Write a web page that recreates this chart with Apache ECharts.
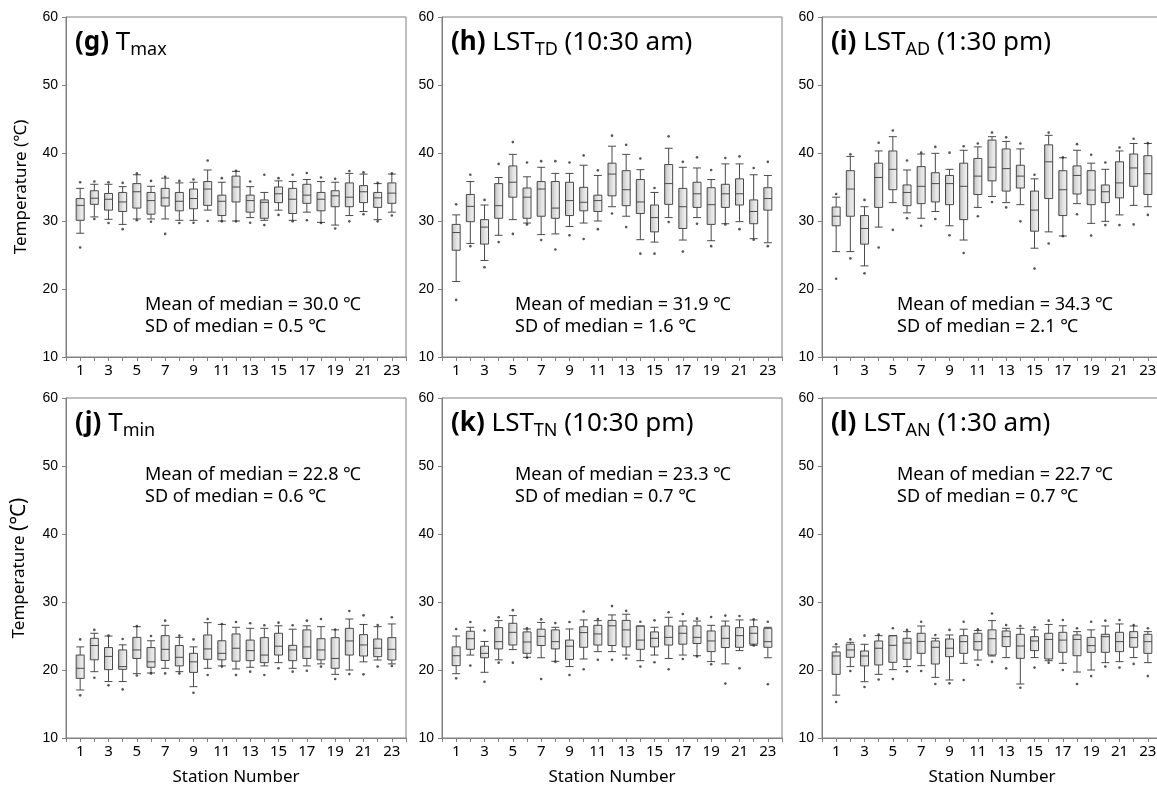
<!DOCTYPE html>
<html><head><meta charset="utf-8">
<script src="https://cdn.jsdelivr.net/npm/echarts@6/dist/echarts.min.js"></script>
<style>html,body{margin:0;padding:0;background:#fff}#c{width:1157px;height:795px}</style>
</head><body><div id="c"></div><script>
// ---------------- DATA ----------------
const stations = [1,2,3,4,5,6,7,8,9,10,11,12,13,14,15,16,17,18,19,20,21,22,23];
const axisCategories = ['0','1','2','3','4','5','6','7','8','9','10','11','12','13','14','15','16','17','18','19','20','21','22','23','24'];
const yMin = 10, yMax = 60, yStep = 10;

// box items: [lower whisker, Q1, median, Q3, upper whisker]
const gBox = [[28.2,30.1,32.3,33.3,34.8],[30.6,32.45,33.35,34.45,35.4],[30.25,31.6,33.2,34.05,35.4],[29.5,31.4,32.8,34.2,35.05],[30.3,31.9,34.3,35.5,36.8],[30.3,31.0,33.0,34.2,35.1],[30.3,32.2,33.4,34.8,36.3],[30.1,31.5,32.9,34.2,35.6],[30.1,31.8,33.3,34.7,35.7],[31.6,32.3,34.7,35.8,37.5],[30.0,30.8,32.9,33.8,35.7],[30.0,32.8,35.0,36.6,37.3],[30.5,31.3,33.0,33.8,35.05],[30.1,30.4,32.75,33.1,34.2],[31.6,32.7,34.0,35.0,35.9],[30.1,31.1,33.2,34.8,35.8],[31.3,32.6,33.8,35.4,36.1],[29.8,31.5,33.2,34.2,35.8],[29.4,32.1,33.7,34.45,35.7],[30.8,32.1,33.5,35.6,37.0],[31.4,32.7,34.3,35.2,36.9],[30.2,32.0,33.4,34.2,35.5],[31.3,32.6,34.1,35.6,36.9]];
const gDots = [[26.1,35.7],[30.3,35.8],[29.7,35.7],[28.8,35.6],[30.1,37.0],[29.9,35.9],[28.1,36.5],[29.7,35.9],[29.75,36.1],[30.0,38.9],[29.95,36.3],[29.95,37.4],[29.75,35.8],[29.4,36.8],[30.9,36.3],[29.95,36.8],[30.1,37.06],[29.7,36.4],[28.9,36.2],[29.95,37.35],[31.0,37.15],[29.95,35.6],[30.8,37.0]];

const hBox = [[21.1,25.7,28.3,29.5,30.9],[26.7,29.9,32.15,33.9,35.8],[24.2,26.6,29.1,30.2,32.35],[27.9,30.4,32.25,35.5,36.4],[30.2,33.5,35.7,38.1,39.8],[29.7,30.4,33.5,34.85,36.5],[28.0,30.7,34.7,35.8,37.9],[28.1,30.4,31.9,35.8,37.0],[29.2,30.8,33.0,35.7,37.0],[29.7,31.5,32.75,34.95,38.2],[30.0,31.4,33.0,33.8,36.7],[32.1,33.7,36.9,38.5,41.0],[30.7,32.25,34.6,37.4,39.8],[27.25,31.1,32.8,36.1,37.55],[26.9,28.4,30.5,32.35,34.2],[30.5,32.45,35.5,38.3,40.7],[27.2,28.9,32.1,34.8,37.9],[30.5,32.0,34.0,35.7,37.8],[27.1,29.5,32.4,34.9,36.1],[29.6,32.0,34.0,35.4,38.4],[29.9,32.35,34.0,36.2,38.4],[27.4,29.6,31.4,33.1,36.8],[26.8,31.6,33.3,34.9,36.7]];
const hDots = [[18.4,32.45],[26.3,36.8],[23.2,33.1],[26.9,38.4],[28.1,41.6],[29.5,38.6],[27.2,38.8],[25.8,38.8],[27.9,38.6],[27.35,39.65],[28.8,37.45],[31.1,42.55],[29.1,41.2],[25.2,39.2],[25.2,34.85],[29.85,42.45],[25.5,38.7],[29.6,39.36],[26.3,37.5],[29.5,39.26],[28.8,39.5],[27.25,37.8],[26.3,38.7]];

const iBox = [[25.5,29.3,30.7,32.05,33.5],[25.5,30.7,34.7,37.4,39.5],[23.4,26.6,28.9,30.8,32.1],[29.1,32.0,36.4,38.5,40.3],[32.7,34.6,37.6,40.3,42.4],[31.2,32.25,34.2,35.3,37.5],[30.4,32.55,35.1,38.0,39.85],[31.4,32.8,35.5,37.1,39.95],[29.3,32.4,35.5,36.7,37.6],[27.2,30.2,35.1,38.5,40.4],[32.0,33.9,36.6,39.2,40.9],[33.6,35.9,37.9,41.9,42.4],[32.7,34.4,37.7,40.6,41.7],[32.4,34.85,36.6,38.2,40.6],[26.0,28.5,31.6,34.4,36.2],[28.4,33.3,38.7,41.2,42.6],[27.8,30.8,34.6,37.4,39.3],[32.55,33.97,36.7,38.1,40.4],[29.65,32.4,34.55,37.4,38.5],[29.95,32.7,34.3,35.3,37.6],[30.9,33.4,35.6,38.7,40.3],[32.3,35.1,37.8,39.85,41.4],[32.1,33.9,36.95,39.6,41.4]];
const iDots = [[21.5,33.97],[24.5,39.8],[22.3,33.1],[26.1,41.5],[28.7,43.3],[30.4,38.9],[29.3,40.05],[30.3,40.9],[27.9,40.05],[25.3,41.0],[30.7,41.4],[32.8,43.0],[32.0,42.3],[29.95,41.4],[23.0,36.8],[26.7,43.0],[27.75,39.35],[31.0,41.3],[27.85,39.75],[29.4,38.6],[29.4,40.8],[29.5,42.1],[30.9,41.45]];

const jBox = [[17.06,18.77,20.25,22.2,23.4],[19.75,21.5,23.6,24.66,25.4],[18.3,20.05,22.0,23.3,25.0],[18.3,20.1,20.5,22.95,23.7],[19.46,21.7,22.95,24.8,26.37],[19.56,20.4,21.2,23.3,24.3],[20.25,21.4,23.04,25.05,26.57],[19.76,20.6,21.87,23.6,24.8],[17.55,19.65,21.2,22.45,23.4],[20.25,21.57,23.1,25.15,26.96],[20.6,21.5,22.45,24.3,26.7],[20.15,21.3,23.2,25.3,26.28],[20.4,21.37,22.85,24.4,26.13],[20.6,21.08,22.2,24.76,26.13],[21.08,22.2,23.5,25.4,26.5],[20.25,21.37,22.95,23.63,26.0],[20.6,21.7,23.4,25.9,26.5],[20.9,21.5,22.95,24.6,26.37],[19.36,20.25,21.7,24.76,25.9],[20.0,22.2,24.27,26.13,27.5],[21.2,22.06,23.68,25.2,26.7],[21.47,21.96,23.2,24.56,26.37],[20.9,21.47,23.04,24.76,26.77]];
const jDots = [[16.27,24.5],[18.87,25.9],[17.74,25.05],[17.15,24.56],[19.2,26.45],[19.5,25.0],[19.5,27.26],[19.5,25.05],[16.66,24.5],[19.27,27.5],[20.5,26.77],[19.27,27.06],[19.76,26.87],[19.27,26.57],[20.25,26.96],[19.76,26.57],[19.9,27.26],[20.5,27.5],[18.67,25.95],[19.4,28.68],[19.36,28.04],[20.5,26.6],[20.6,27.75]];

const kBox = [[19.46,20.64,22.1,23.4,25.0],[22.2,23.04,24.6,25.7,26.28],[19.66,21.8,22.45,23.5,24.2],[21.5,23.1,24.17,26.23,27.26],[23.0,23.68,25.54,26.87,28.0],[21.87,22.45,24.12,25.6,26.03],[21.8,23.6,24.95,26.0,27.0],[21.28,23.1,24.17,25.9,26.28],[20.5,21.55,23.5,24.4,26.03],[21.62,23.34,25.5,26.37,27.36],[22.7,23.67,25.3,26.57,27.26],[22.7,23.6,26.5,27.3,28.1],[22.2,23.4,25.9,27.3,28.2],[21.37,23.04,24.4,26.47,26.47],[22.2,23.4,24.66,25.6,26.28],[21.7,23.67,24.8,26.47,27.75],[22.2,23.8,25.4,26.47,27.2],[22.1,23.9,24.8,26.5,27.2],[21.23,22.7,24.27,25.74,26.57],[20.9,23.3,24.66,26.47,27.2],[22.85,23.34,25.05,26.23,27.36],[23.63,23.8,25.4,26.37,27.36],[21.8,23.34,24.17,26.13,26.28]];
const kDots = [[18.77,26.03],[20.65,27.06],[18.28,25.8],[21.08,27.75],[21.08,28.8],[21.8,26.13],[18.67,27.45],[21.2,26.9],[19.26,27.06],[20.1,28.6],[21.5,27.5],[21.5,29.4],[21.7,28.7],[20.5,27.1],[21.13,27.3],[20.1,28.5],[21.62,28.24],[22.0,27.55],[20.84,27.8],[18.0,28.0],[20.25,27.94],[23.6,27.45],[17.9,27.1]];

const lBox = [[16.3,19.36,22.06,22.65,23.4],[20.5,21.87,22.95,23.8,24.07],[18.28,20.6,22.06,22.8,23.78],[19.36,20.74,23.2,24.27,25.05],[20.05,21.13,23.63,25.05,25.05],[20.5,21.57,23.97,24.66,25.64],[20.64,22.45,24.2,25.4,26.47],[18.92,20.88,23.34,24.27,24.66],[18.53,21.96,23.2,24.56,25.15],[20.98,22.45,24.17,25.05,26.0],[21.47,22.94,24.17,25.4,25.8],[22.06,22.2,24.6,25.9,27.26],[21.82,23.44,24.9,25.74,26.13],[17.94,21.72,23.53,25.25,26.13],[21.82,22.85,24.27,24.9,25.9],[21.37,21.62,24.5,25.4,26.7],[20.98,22.6,24.4,25.54,26.5],[19.7,22.1,24.5,25.15,25.64],[20.0,22.6,23.58,24.8,25.9],[21.08,22.6,24.9,25.25,26.47],[21.23,22.7,24.17,25.54,26.77],[21.82,23.34,24.76,25.64,26.47],[21.08,22.45,24.17,25.25,25.64]];
const lDots = [[15.3,23.78],[19.85,24.5],[17.5,25.05],[18.6,25.2],[18.67,26.13],[19.8,25.9],[19.85,27.1],[17.94,25.15],[18.04,25.9],[18.53,27.1],[20.74,26.0],[21.2,28.3],[20.24,26.6],[17.4,26.47],[20.35,26.28],[21.08,27.26],[20.0,27.36],[17.94,26.13],[19.1,27.1],[20.5,27.26],[20.35,27.36],[20.9,26.6],[19.1,26.13]];

const panelLetters = ['(g)','(h)','(i)','(j)','(k)','(l)'];
const panelVars = ['T','LST','LST','T','LST','LST'];
const panelSubs = ['max','TD','AD','min','TN','AN'];
const panelTimes = ['','(10:30 am)','(1:30 pm)','','(10:30 pm)','(1:30 am)'];
const meanOfMedian = ['30.0','31.9','34.3','22.8','23.3','22.7'];
const sdOfMedian = ['0.5','1.6','2.1','0.6','0.7','0.7'];
const yAxisTitle = 'Temperature';
const xAxisTitle = 'Station Number';

// ---------------- LAYOUT / STYLE ----------------
const boxes = [gBox,hBox,iBox,jBox,kBox,lBox];
const dots = [gDots,hDots,iDots,jDots,kDots,lDots];
const gridLefts = [66,442,822,66,442,822];
const gridTops = [17,17,17,398,398,398];
const GW = 340, GH = 340;
const annoOffsetX = [79,73,75,79,73,75];
const annoTop = [294,294,294,464,464,464];
const TXT = "'Noto Sans','Noto Sans CJK KR',sans-serif";
const NUM = "'Liberation Sans',Arial,sans-serif";
const frame = '#808080';
const EMPTY = ['-','-','-','-','-'];

const chart = echarts.init(document.getElementById('c'), null, {renderer:'canvas'});
const grid=[], xAxis=[], yAxis=[], series=[], graphic=[];
for (let p=0;p<6;p++){
  grid.push({left:gridLefts[p], top:gridTops[p], width:GW, height:GH, show:true,
    borderColor:frame, borderWidth:1, containLabel:false, outerBoundsMode:'none'});
  xAxis.push({type:'category', gridIndex:p, data:axisCategories, boundaryGap:false,
    axisLine:{show:true, lineStyle:{color:frame, width:1}},
    axisTick:{show:true, interval:0, length:4, lineStyle:{color:frame}},
    axisLabel:{interval:function(idx){return idx%2===1;}, margin:6, color:'#000', fontSize:15, fontFamily:TXT},
    splitLine:{show:false},
    name: p>=3 ? xAxisTitle : '', nameLocation:'middle', nameGap:31,
    nameTextStyle:{color:'#000', fontSize:17, fontFamily:TXT}});
  const isLeft = p%3===0;
  yAxis.push({type:'value', gridIndex:p, min:yMin, max:yMax, interval:yStep,
    axisLine:{show:true, lineStyle:{color:frame, width:1}},
    axisTick:{show:true, length:4, lineStyle:{color:frame}},
    axisLabel:{margin:8, color:'#000', fontSize:14, fontFamily:NUM},
    splitLine:{show:false},
    name: isLeft ? (p===0 ? '{a|'+yAxisTitle+' (℃)}' : '{a|'+yAxisTitle+' }{b|(℃)}') : '',
    nameLocation:'middle', nameGap:36,
    nameTextStyle:{color:'#000', fontSize:17, fontFamily:TXT,
      rich:{a:{fontSize:17, fontFamily:TXT, color:'#000'}, b:{fontSize:21, fontFamily:TXT, color:'#000'}}}});
  series.push({type:'boxplot', xAxisIndex:p, yAxisIndex:p, silent:true,
    data:[EMPTY].concat(boxes[p]), boxWidth:[8,8],
    itemStyle:{color:{type:'linear',x:0,y:0,x2:1,y2:0,colorStops:[
      {offset:0,color:'#bdbdbd'},{offset:0.55,color:'#e4e4e4'},{offset:1,color:'#f3f3f3'}]},
      borderColor:'#4a4a4a', borderWidth:1},
    emphasis:{disabled:true}});
  const pts=[];
  stations.forEach(function(s,i){ pts.push([s,dots[p][i][0]]); pts.push([s,dots[p][i][1]]); });
  series.push({type:'scatter', xAxisIndex:p, yAxisIndex:p, silent:true, data:pts,
    symbol:'circle', symbolSize:2.6, itemStyle:{color:'#2a2a2a'}, emphasis:{disabled:true}});

  let t = '{b|'+panelLetters[p]+'} {n|'+panelVars[p]+'}{s|'+panelSubs[p]+'}';
  if (panelTimes[p]) t += '{n| '+panelTimes[p]+'}';
  graphic.push({type:'text', left:gridLefts[p]+9, top:gridTops[p]+10, silent:true,
    style:{text:t, fontSize:26, lineHeight:32, fontFamily:TXT, fill:'#000',
      rich:{b:{fontSize:26, fontWeight:'bold', lineHeight:32, fontFamily:TXT, fill:'#000'},
            n:{fontSize:26, lineHeight:32, fontFamily:TXT, fill:'#000'},
            s:{fontSize:18, lineHeight:16, verticalAlign:'bottom', fontFamily:TXT, fill:'#000'}}}});
  graphic.push({type:'text', left:gridLefts[p]+annoOffsetX[p], top:annoTop[p], silent:true,
    style:{text:'Mean of median = '+meanOfMedian[p]+' ℃\nSD of median = '+sdOfMedian[p]+' ℃',
      fontSize:18, lineHeight:22, fontFamily:TXT, fill:'#000'}});
}
chart.setOption({animation:false, backgroundColor:'#fff', grid:grid, xAxis:xAxis, yAxis:yAxis, series:series, graphic:graphic});
</script></body></html>
